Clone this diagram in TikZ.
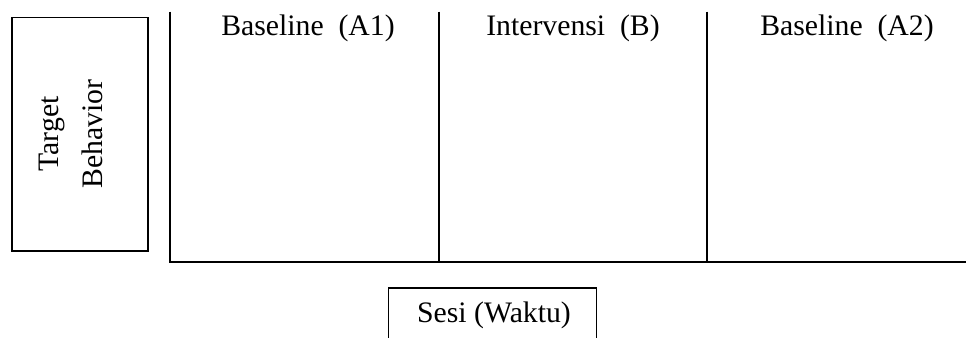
\documentclass[tikz,border=0pt]{standalone}
\usepackage{fontspec}
\setmainfont{Liberation Serif}
\begin{document}
\begin{tikzpicture}[x=0.75pt,y=-0.75pt,line width=1.2pt,
  lbl/.style={font=\fontsize{22.3}{30}\selectfont,inner sep=0pt,anchor=base},
  frame/.style={draw,line width=1.2pt}]
\useasboundingbox (0,0) rectangle (966,338);
% target behavior box
\node[frame,minimum width=136*0.75pt,minimum height=233*0.75pt,inner sep=0pt] (box) at (79.7,134.2) {};
\node[font=\fontsize{22.3}{33}\selectfont,inner sep=0pt,rotate=90,align=center] (tb) at (71,134) {Target\\Behavior};
% axes
\coordinate (ytop) at (170,11.7);
\coordinate (orig) at (170,261.7);
\coordinate (xend) at (966,261.7);
\draw (ytop) -- (orig) -- (xend);
\coordinate (d1t) at (438.7,11.7);
\coordinate (d1b) at (438.7,261.7);
\coordinate (d2t) at (707,11.7);
\coordinate (d2b) at (707,261.7);
\draw (d1t) -- (d1b);
\draw (d2t) -- (d2b);
% phase labels
\node[lbl] (a1) at (308,36) {Baseline\ \ (A1)};
\node[lbl] (b) at (573,36) {Intervensi\ \ (B)};
\node[lbl] (a2) at (847,36) {Baseline\ \ (A2)};
% session box (open bottom)
\coordinate (sbl) at (388.3,338);
\coordinate (stl) at (388.3,287.7);
\coordinate (str) at (596.5,287.7);
\coordinate (sbr) at (596.5,338);
\draw (sbl) -- (stl) -- (str) -- (sbr);
\node[lbl] (sesi) at (494,322) {Sesi (Waktu)};
\end{tikzpicture}
\end{document}
